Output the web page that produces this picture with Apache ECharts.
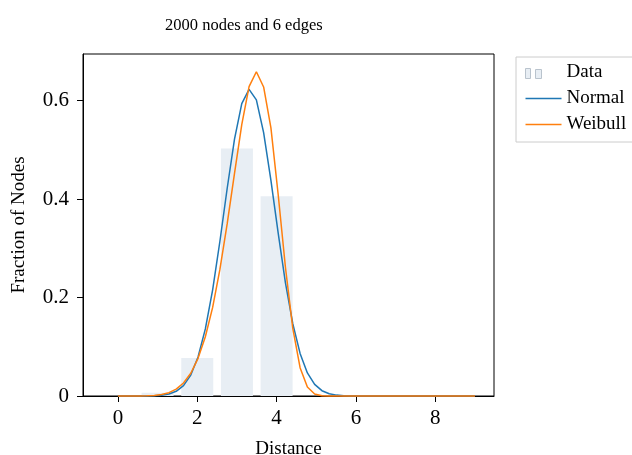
<!DOCTYPE html>
<html>
<head>
<meta charset="utf-8">
<script src="https://cdn.jsdelivr.net/npm/echarts@6/dist/echarts.min.js"></script>
<style>
  html, body { margin: 0; padding: 0; background: #fff; }
  #chart { width: 632px; height: 455px; }
</style>
</head>
<body>
<div id="chart"></div>
<script>
// Histogram of shortest-path distances with two fitted densities
const chartTitle = '2000 nodes and 6 edges';
const distanceBins = [1, 2, 3, 4];
const fractionOfNodes = [0.0067, 0.077, 0.503, 0.406];

const fitX = [0, 0.184, 0.367, 0.551, 0.735, 0.918, 1.102, 1.286, 1.469, 1.653,
  1.837, 2.020, 2.204, 2.388, 2.571, 2.755, 2.939, 3.122, 3.306, 3.490,
  3.673, 3.857, 4.041, 4.224, 4.408, 4.592, 4.776, 4.959, 5.143, 5.327,
  5.510, 5.694, 5.878, 6.061, 6.245, 6.429, 6.612, 6.796, 6.980, 7.163,
  7.347, 7.531, 7.714, 7.898, 8.082, 8.265, 8.449, 8.633, 8.816, 9.000];

const normalFit = [0, 0, 0, 0.0001, 0.0002, 0.0005, 0.0015, 0.0040, 0.0095, 0.0210,
  0.0425, 0.0793, 0.1363, 0.2158, 0.3145, 0.4222, 0.5220, 0.5943, 0.6232, 0.6018,
  0.5351, 0.4383, 0.3306, 0.2296, 0.1469, 0.0865, 0.0469, 0.0235, 0.0108, 0.0046,
  0.0018, 0.0006, 0.0002, 0.0001, 0, 0, 0, 0, 0, 0,
  0, 0, 0, 0, 0, 0, 0, 0, 0, 0];

const weibullFit = [0, 0, 0, 0, 0.0003, 0.0011, 0.0030, 0.0068, 0.0140, 0.0264,
  0.0463, 0.0766, 0.1204, 0.1801, 0.2573, 0.3501, 0.4523, 0.5513, 0.6286, 0.6590,
  0.6280, 0.5450, 0.4084, 0.2606, 0.1373, 0.0575, 0.0183, 0.0042, 0.0007, 0.0001,
  0, 0, 0, 0, 0, 0, 0, 0, 0, 0,
  0, 0, 0, 0, 0, 0, 0, 0, 0, 0];

const xTicks = [0, 2, 4, 6, 8];
const yTicks = [0, 0.2, 0.4, 0.6];

const FONT = '"Liberation Serif", "DejaVu Serif", serif';

// legend glyphs drawn inside a 36 x 14 box (corner points pin the box size)
const BOX = 'M0,0L0,0M36,14L36,14';
const barGlyph = 'path://' + BOX + 'M0,3H5V13H0ZM10,4H16V13H10Z';
const lineGlyph = 'path://' + BOX + 'M0,6.3H36V7.7H0Z';

const pair = (xs, ys) => xs.map((x, i) => [x, ys[i]]);

const chart = echarts.init(document.getElementById('chart'), null, { renderer: 'canvas' });

chart.setOption({
  animation: false,
  backgroundColor: '#fff',
  title: {
    text: chartTitle,
    left: 160,
    top: 12,
    textStyle: { fontFamily: FONT, fontSize: 16.5, fontWeight: 'normal', color: '#000' }
  },
  grid: {
    left: 83, top: 54, right: 138, bottom: 59,
    outerBoundsMode: 'none',
    containLabel: false,
    show: true, borderColor: '#000', borderWidth: 1, backgroundColor: 'transparent'
  },
  legend: {
    orient: 'vertical',
    left: 516,
    top: 57,
    padding: [6, 8, 8, 9],
    itemGap: 7,
    itemWidth: 36,
    itemHeight: 14,
    borderColor: '#cccccc',
    borderWidth: 1,
    borderRadius: 0,
    textStyle: { fontFamily: FONT, fontSize: 19, color: '#000' },
    data: [
      {
        name: 'Data',
        icon: barGlyph,
        itemStyle: { color: '#e8eef4', borderColor: '#b9c3cd', borderWidth: 1 }
      },
      { name: 'Normal', icon: lineGlyph, itemStyle: { color: '#1f77b4', borderWidth: 0 } },
      { name: 'Weibull', icon: lineGlyph, itemStyle: { color: '#ff7f0e', borderWidth: 0 } }
    ]
  },
  xAxis: {
    type: 'value',
    min: -0.88,
    max: 9.48,
    name: 'Distance',
    nameLocation: 'middle',
    nameGap: 44,
    nameTextStyle: { fontFamily: FONT, fontSize: 19, color: '#000' },
    axisLine: { show: true, onZero: false, lineStyle: { color: '#000', width: 1 } },
    axisTick: { show: true, length: 6, customValues: xTicks, lineStyle: { color: '#000' } },
    axisLabel: { customValues: xTicks, margin: 12, fontFamily: FONT, fontSize: 21, color: '#000' },
    splitLine: { show: false }
  },
  yAxis: {
    type: 'value',
    min: 0,
    max: 0.695,
    name: 'Fraction of Nodes',
    nameLocation: 'middle',
    nameGap: 54,
    nameTextStyle: { fontFamily: FONT, fontSize: 19, color: '#000' },
    axisLine: { show: true, onZero: false, lineStyle: { color: '#000', width: 1 } },
    axisTick: { show: true, length: 6, customValues: yTicks, lineStyle: { color: '#000' } },
    axisLabel: {
      customValues: yTicks, margin: 14, fontFamily: FONT, fontSize: 21, color: '#000',
      formatter: v => (v === 0 ? '0' : String(v))
    },
    splitLine: { show: false }
  },
  series: [
    {
      name: 'Data',
      type: 'bar',
      data: pair(distanceBins, fractionOfNodes),
      barWidth: 32,
      itemStyle: { color: '#e8eef4' },
      z: 1
    },
    {
      name: 'Normal',
      type: 'line',
      data: pair(fitX, normalFit),
      showSymbol: false,
      symbol: 'none',
      clip: false,
      lineStyle: { color: '#1f77b4', width: 1.5 },
      itemStyle: { color: '#1f77b4' },
      z: 3
    },
    {
      name: 'Weibull',
      type: 'line',
      data: pair(fitX, weibullFit),
      showSymbol: false,
      symbol: 'none',
      clip: false,
      lineStyle: { color: '#ff7f0e', width: 1.5 },
      itemStyle: { color: '#ff7f0e' },
      z: 4
    }
  ]
});
</script>
</body>
</html>
